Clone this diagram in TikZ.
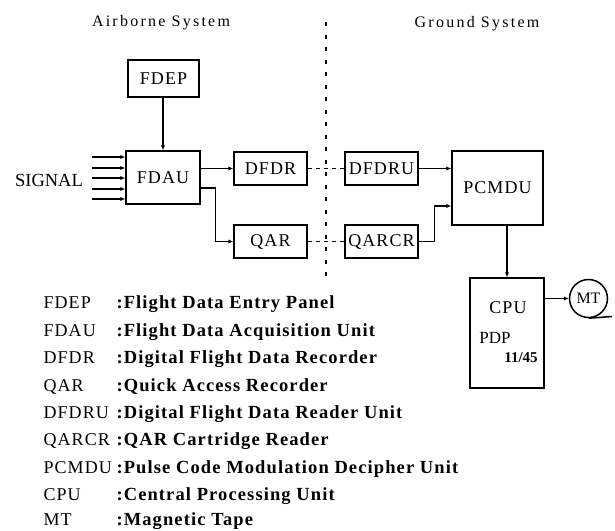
\documentclass[tikz,border=0pt]{standalone}
\usepackage{fontspec}
\setmainfont{Liberation Serif}
\usetikzlibrary{arrows.meta}
\begin{document}
\begin{tikzpicture}[x=1pt,y=-1pt,
  lbl/.style={font=\fontsize{18}{21}\selectfont\addfontfeature{LetterSpace=6}},
  box/.style={draw, line width=1.5pt, inner sep=0pt, lbl},
  conn/.style={line width=1.1pt, -{Latex[length=5pt,width=4.5pt]}},
  dashpat/.style={line width=1.1pt, dash pattern=on 4pt off 4pt},
  vline/.style={line width=1.3pt, dash pattern=on 4pt off 8.5pt},
  title/.style={font=\fontsize{16}{19}\selectfont\addfontfeature{LetterSpace=14}},
  abbr/.style={anchor=base west, font=\fontsize{18}{21}\selectfont\addfontfeature{LetterSpace=6}},
  desc/.style={anchor=base west, font=\fontsize{18.5}{21}\selectfont\bfseries\addfontfeature{LetterSpace=6}}
]
\useasboundingbox (0,0) rectangle (615,530);

% titles
\node[title] (air) at (161,23) {Airborne System};
\node[title] (gnd) at (477,24) {Ground System};

% dividing line
\coordinate (vtop) at (326,22);
\coordinate (vbot) at (326,283);
\draw[vline] (vtop) -- (vbot);

% boxes
\node[box, minimum width=71pt, minimum height=37pt] (fdep) at (163.5,78.5) {FDEP};
\node[box, minimum width=74pt, minimum height=53pt] (fdau) at (163,177.5) {FDAU};
\node[box, minimum width=73pt, minimum height=33pt] (dfdr) at (270.5,168.5) {DFDR};
\node[box, minimum width=73pt, minimum height=33pt] (qar) at (270.5,241.5) {QAR};
\node[box, minimum width=73pt, minimum height=33pt] (dfdru) at (381.5,168.5) {DFDRU};
\node[box, minimum width=73pt, minimum height=33pt] (qarcr) at (381.5,241.5) {QARCR};
\node[box, minimum width=91pt, minimum height=74pt] (pcmdu) at (497.5,188) {PCMDU};
\node[box, minimum width=74pt, minimum height=110pt] (cpu) at (507,333) {};
\node[lbl] (cpulab) at (508,308) {CPU};
\node[font=\fontsize{17}{20}\selectfont] (pdp) at (495,338) {PDP};
\node[font=\fontsize{15}{18}\selectfont\bfseries] (num) at (521,358) {11/45};
\node[draw, circle, line width=1.5pt, minimum size=38pt, inner sep=0pt, font=\fontsize{16}{19}\selectfont] (mt) at (588.5,298.5) {MT};
\coordinate (tape) at (612,316.5);
\draw[line width=1.5pt] (mt.south) -- (tape);

% signal
\node[font=\fontsize{18.5}{21}\selectfont] (sig) at (49,180) {SIGNAL};
\foreach \i/\yy in {1/157,2/168,3/178,4/189,5/199}{
  \coordinate (s\i) at (92,\yy);
  \draw[conn] (s\i) -- (s\i -| fdau.west);
}

% connectors
\draw[conn] (fdep.south -| fdau.north) -- (fdau.north);
\draw[conn] (fdau.east |- dfdr.west) -- (dfdr.west);
\draw[conn] ([yshift=-10.5pt]fdau.east) -| ([xshift=-18pt]qar.west) -- (qar.west);
\draw[dashpat] (dfdr.east) -- (dfdru.west);
\draw[dashpat] (qar.east) -- (qarcr.west);
\draw[conn] (dfdru.east) -- (dfdru.east -| pcmdu.west);
\draw[conn] (qarcr.east) -| ([xshift=-17pt,yshift=-18pt]pcmdu.west) -- ([yshift=-18pt]pcmdu.west);
\draw[conn] (cpu.north |- pcmdu.south) -- (cpu.north);
\draw[conn] (cpu.east |- mt.west) -- (mt.west);

% legend
\foreach \n/\a/\d/\yy in {
  1/FDEP/Flight Data Entry Panel/308.5,
  2/FDAU/Flight Data Acquisition Unit/336,
  3/DFDR/Digital Flight Data Recorder/363.5,
  4/QAR/Quick Access Recorder/391,
  5/DFDRU/Digital Flight Data Reader Unit/418,
  6/QARCR/QAR Cartridge Reader/445.5,
  7/PCMDU/Pulse Code Modulation Decipher Unit/473,
  8/CPU/Central Processing Unit/500.5,
  9/MT/Magnetic Tape/525.5}{
  \node[abbr] (la\n) at (40,\yy) {\a};
  \node[desc] (ld\n) at (113,\yy) {:\d};
}
\end{tikzpicture}
\end{document}
